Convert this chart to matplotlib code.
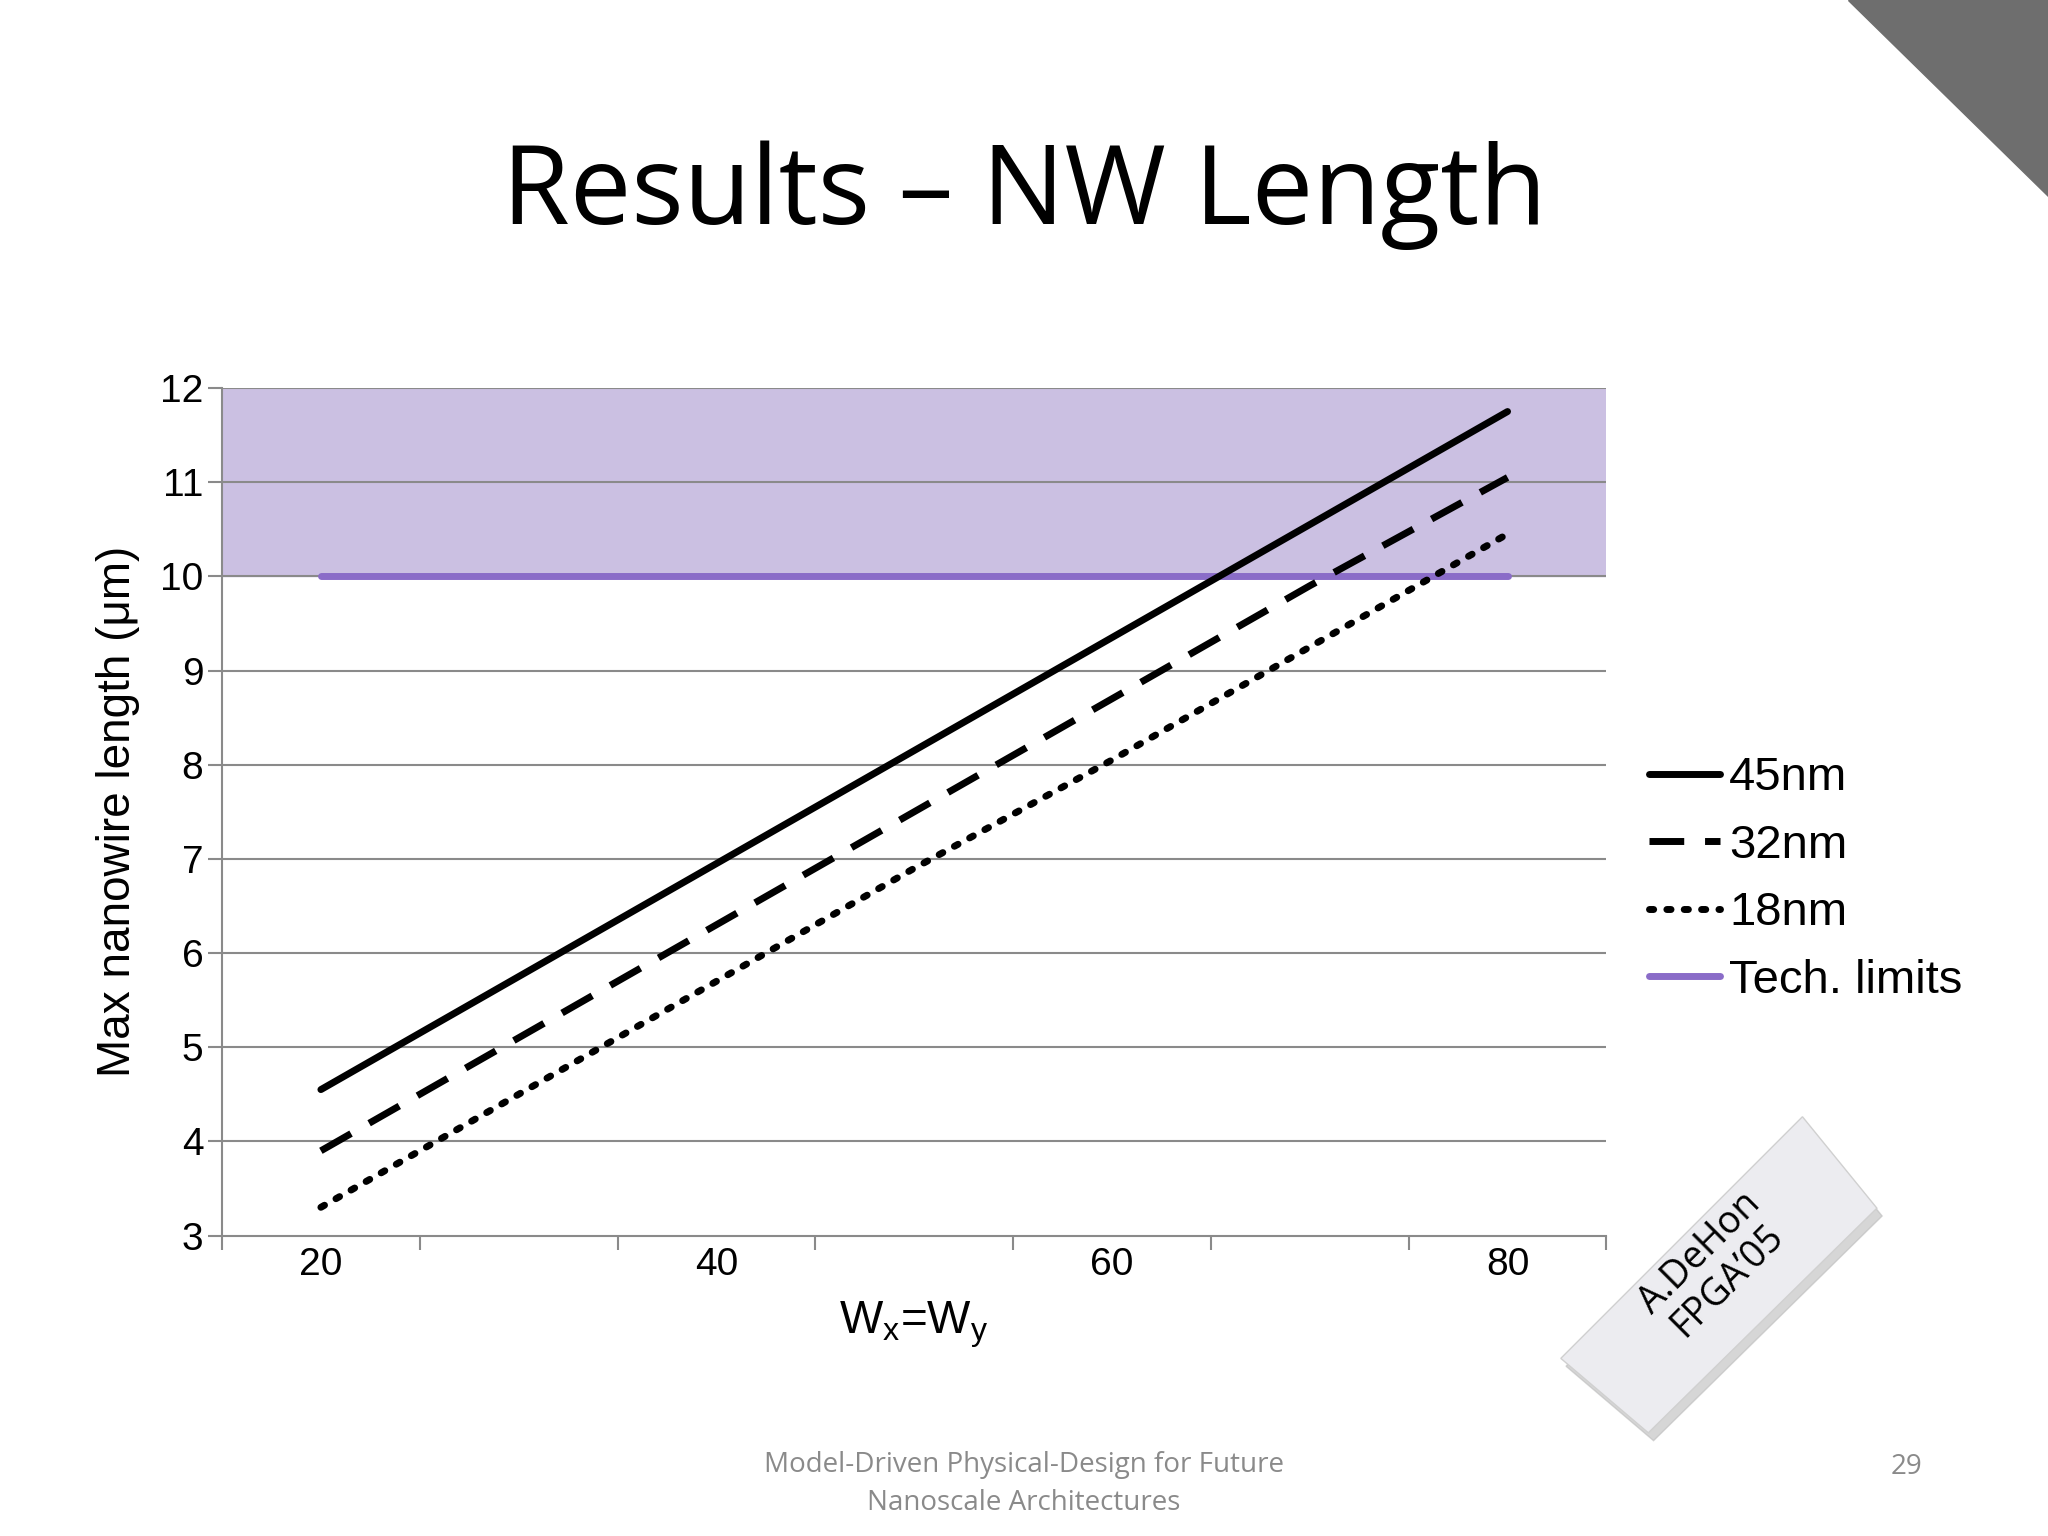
import matplotlib
matplotlib.use("Agg")
import matplotlib.pyplot as plt
from matplotlib.patches import Polygon
import numpy as np

W = [20, 30, 40, 50, 60, 70, 80]
nm45 = [4.55, 5.75, 6.95, 8.15, 9.35, 10.55, 11.75]
nm32 = [3.9, 5.1, 6.3, 7.5, 8.7, 9.9, 11.05]
nm18 = [3.3, 4.5, 5.7, 6.9, 8.05, 9.25, 10.45]
tech = [10, 10, 10, 10, 10, 10, 10]
xticks = [20, 40, 60, 80]
yticks = list(range(3, 13))

plt.rcParams['font.family'] = ['Liberation Sans', 'DejaVu Sans']
fig = plt.figure(figsize=(20.48, 15.36), dpi=100)
fig.patch.set_facecolor('white')

ax = fig.add_axes([0.1084, 0.1956, 0.676, 0.5518])
ax.axhspan(10, 12, color='#cbc0e2', zorder=0)
for y in yticks[1:]:
    ax.axhline(y, color='#8a8a8a', lw=1.5, zorder=1)
ax.plot(W, nm45, color='black', lw=5, solid_capstyle='round', label='45nm', zorder=3)
ax.plot(W, nm32, color='black', lw=5, dashes=(5, 3), label='32nm', zorder=3)
ax.plot(W, nm18, color='black', lw=5, dashes=(0.6, 1.9), dash_capstyle='round', label='18nm', zorder=3)
ax.plot(W, tech, color='#8a6cc8', lw=5, solid_capstyle='round', label='Tech. limits', zorder=2)
ax.set_xlim(15, 85)
ax.set_ylim(3, 12)
ax.set_yticks(yticks)
ax.set_xticks(xticks)
ax.set_xticks(np.arange(15, 86, 10), minor=True)
ax.tick_params(axis='x', which='major', length=0, labelsize=28, pad=8)
ax.tick_params(axis='x', which='minor', length=10, color='#8a8a8a', width=1.5)
ax.tick_params(axis='y', length=10, color='#8a8a8a', width=1.5, labelsize=28, direction='out')
for s in ['top', 'right']:
    ax.spines[s].set_visible(False)
ax.spines['left'].set_color('#8a8a8a'); ax.spines['left'].set_linewidth(1.5)
ax.spines['bottom'].set_color('#8a8a8a'); ax.spines['bottom'].set_linewidth(1.5)
ax.set_ylabel('Max nanowire length (μm)', fontsize=33, labelpad=14)
ax.set_xlabel('W$_\\mathregular{x}$=W$_\\mathregular{y}$', fontsize=33, labelpad=12)
ax.legend(loc='center left', bbox_to_anchor=(1.0, 0.42), frameon=False, fontsize=34,
          handlelength=1.5, handletextpad=0.2, labelspacing=0.5)

fig.text(0.5, 0.873, 'Results – NW Length', ha='center', va='center', fontsize=79, family='Open Sans')
fig.text(0.5, 0.034, 'Model-Driven Physical-Design for Future\nNanoscale Architectures',
         ha='center', va='center', fontsize=20, color='#8a8a8a', family='Open Sans', linespacing=1.5)
fig.text(0.931, 0.045, '29', ha='center', va='center', fontsize=20, color='#8a8a8a', family='Open Sans')

fig.patches.append(Polygon([[1415/1568, 1], [1, 1], [1, 1 - 150/1176]], closed=True,
                           transform=fig.transFigure, color='#6e6e6e'))
pts_px = np.array([[1195, 1040], [1380, 855], [1437, 925], [1262, 1097]])
sh = Polygon([[(x + 4) / 1568, 1 - (y + 6) / 1176] for x, y in pts_px], closed=True,
             transform=fig.transFigure, color='#bbbbbb', alpha=0.6)
fig.patches.append(sh)
fig.patches.append(Polygon([[x / 1568, 1 - y / 1176] for x, y in pts_px], closed=True,
                           transform=fig.transFigure, facecolor='#ececf0', edgecolor='#d0d0d0'))
fig.text(1312/1568, 1 - 970/1176, 'A.DeHon\nFPGA’05', rotation=45, ha='center', va='center',
         fontsize=27, family='Open Sans', linespacing=1.0)

fig.savefig('out.png', dpi=100)
